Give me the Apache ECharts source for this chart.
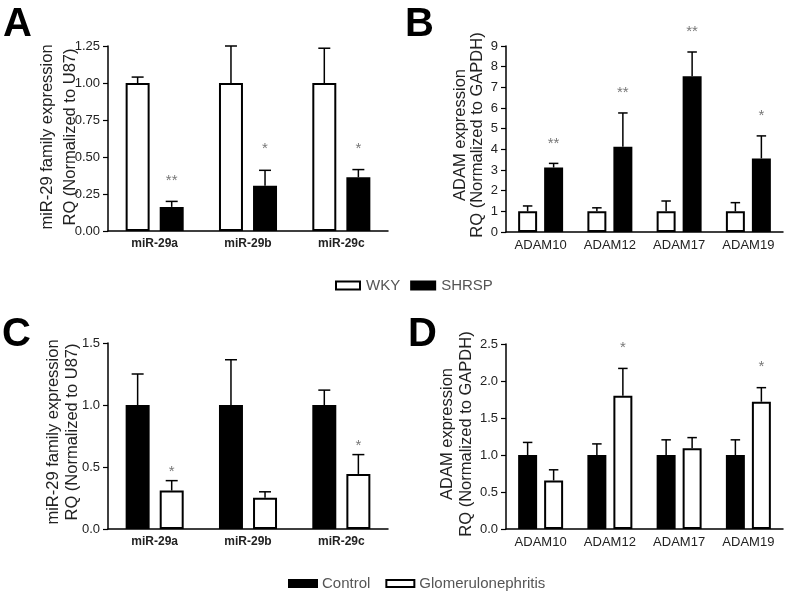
<!DOCTYPE html>
<html>
<head>
<meta charset="utf-8">
<script src="https://cdn.jsdelivr.net/npm/echarts@6/dist/echarts.min.js"></script>
<style>html,body{margin:0;padding:0;background:#fff}#c{width:788px;height:595px}</style>
</head>
<body>
<div id="c"></div>
<script>
// ---- Data ----
var catsA = ['miR-29a', 'miR-29b', 'miR-29c'];
var wkyA = [1.00, 1.00, 1.00];
var wkyASem = [0.04, 0.25, 0.235];
var shrspA = [0.163, 0.306, 0.363];
var shrspASem = [0.037, 0.104, 0.052];
var sigA = ['**', '*', '*'];

var catsB = ['ADAM10', 'ADAM12', 'ADAM17', 'ADAM19'];
var wkyB = [1.00, 1.00, 1.00, 1.00];
var wkyBSem = [0.26, 0.17, 0.50, 0.42];
var shrspB = [3.12, 4.12, 7.54, 3.56];
var shrspBSem = [0.20, 1.64, 1.17, 1.09];
var sigB = ['**', '**', '**', '*'];

var catsC = ['miR-29a', 'miR-29b', 'miR-29c'];
var ctrlC = [1.00, 1.00, 1.00];
var ctrlCSem = [0.25, 0.365, 0.12];
var glomC = [0.31, 0.253, 0.444];
var glomCSem = [0.08, 0.047, 0.156];
var sigC = ['*', '', '*'];

var catsD = ['ADAM10', 'ADAM12', 'ADAM17', 'ADAM19'];
var ctrlD = [1.00, 1.00, 1.00, 1.00];
var ctrlDSem = [0.17, 0.15, 0.205, 0.205];
var glomD = [0.656, 1.80, 1.09, 1.72];
var glomDSem = [0.144, 0.37, 0.145, 0.19];
var sigD = ['', '*', '', '*'];

var ticksA = {min: 0, max: 1.25, interval: 0.25, dec: 2};
var ticksB = {min: 0, max: 9, interval: 1, dec: 0};
var ticksC = {min: 0, max: 1.5, interval: 0.5, dec: 1};
var ticksD = {min: 0, max: 2.5, interval: 0.5, dec: 1};

var titleMir = ['miR-29 family expression', 'RQ (Normalized to U87)'];
var titleAdam = ['ADAM expression', 'RQ (Normalized to GAPDH)'];

// ---- Build ----
var FONT = '"Liberation Sans", Arial, sans-serif';
var chart = echarts.init(document.getElementById('c'), null, {renderer: 'canvas'});

var panels = [
  {grid: {left: 108, right: 400, top: 46, bottom: 364}, cats: catsA, t: ticksA, bw: 0.257, gap: 0.42, boldCat: true,
   title: titleMir, tx: [47, 70], ty: 137, starOff: 21,
   s1: {name: 'WKY', v: wkyA, e: wkyASem, fill: '#fff'}, s2: {name: 'SHRSP', v: shrspA, e: shrspASem, fill: '#000', sig: sigA}},
  {grid: {left: 506, right: 5, top: 46, bottom: 363}, cats: catsB, t: ticksB, bw: 0.274, gap: 0.37, boldCat: false,
   title: titleAdam, tx: [460, 477.5], ty: 135, starOff: 20,
   s1: {name: 'WKY', v: wkyB, e: wkyBSem, fill: '#fff'}, s2: {name: 'SHRSP', v: shrspB, e: shrspBSem, fill: '#000', sig: sigB}},
  {grid: {left: 108, right: 400, top: 343, bottom: 66}, cats: catsC, t: ticksC, bw: 0.257, gap: 0.42, boldCat: true,
   title: titleMir, tx: [53, 72], ty: 432, starOff: 9,
   s1: {name: 'Control', v: ctrlC, e: ctrlCSem, fill: '#000'}, s2: {name: 'Glomerulonephritis', v: glomC, e: glomCSem, fill: '#fff', sig: sigC}},
  {grid: {left: 506, right: 5, top: 344, bottom: 66}, cats: catsD, t: ticksD, bw: 0.274, gap: 0.37, boldCat: false,
   title: titleAdam, tx: [447, 466], ty: 434, starOff: 20.5,
   s1: {name: 'Control', v: ctrlD, e: ctrlDSem, fill: '#000'}, s2: {name: 'Glomerulonephritis', v: glomD, e: glomDSem, fill: '#fff', sig: sigD}}
];

var grids = [], xAxes = [], yAxes = [], series = [], graphics = [];

function errSeries(pi, p, s, sign) {
  var data = s.v.map(function (v, i) { return [i, v, v + s.e[i], (s.sig && s.sig[i]) || '']; });
  return {
    type: 'custom', name: 'err-' + s.name + pi, xAxisIndex: pi, yAxisIndex: pi, clip: false, z: 3,
    encode: {x: 0, y: [1, 2]},
    data: data,
    renderItem: function (params, api) {
      var idx = api.value(0);
      var top = api.coord([idx, api.value(1)]);
      var et = api.coord([idx, api.value(2)]);
      var band = api.size([1, 0])[0];
      var w = band * p.bw;
      var x = top[0] + sign * w * (1 + p.gap) / 2;
      var cap = w * 0.5;
      var lineStyle = {stroke: '#000', lineWidth: 1.5};
      var children = [
        {type: 'line', shape: {x1: x, y1: top[1], x2: x, y2: et[1]}, style: lineStyle},
        {type: 'line', shape: {x1: x - cap / 2, y1: et[1], x2: x + cap / 2, y2: et[1]}, style: lineStyle}
      ];
      var sig = api.value(3);
      if (sig) {
        children.push({type: 'text', x: x, y: et[1] - p.starOff,
          style: {text: sig, fill: '#777', font: '15px ' + FONT, align: 'center', verticalAlign: 'middle'}});
      }
      return {type: 'group', children: children};
    }
  };
}

panels.forEach(function (p, pi) {
  grids.push(p.grid);
  xAxes.push({
    type: 'category', gridIndex: pi, data: p.cats, boundaryGap: true,
    axisLine: {lineStyle: {color: '#000', width: 1.5}},
    axisTick: {alignWithLabel: true, length: 4, lineStyle: {color: '#000', width: 1.2}},
    axisLabel: {color: '#222', fontFamily: FONT, fontSize: p.boldCat ? 12 : 13, fontWeight: p.boldCat ? 'bold' : 'normal', margin: 7}
  });
  yAxes.push({
    type: 'value', gridIndex: pi, min: p.t.min, max: p.t.max, interval: p.t.interval,
    splitLine: {show: false},
    axisLine: {show: true, lineStyle: {color: '#000', width: 1.5}},
    axisTick: {show: true, length: 5, lineStyle: {color: '#000', width: 1.2}},
    axisLabel: {color: '#222', fontFamily: FONT, fontSize: 13, margin: 8,
      formatter: (function (d) { return function (v) { return v.toFixed(d); }; })(p.t.dec)}
  });
  [p.s1, p.s2].forEach(function (s) {
    series.push({
      type: 'bar', name: s.name, xAxisIndex: pi, yAxisIndex: pi, data: s.v,
      barWidth: (p.bw * 100) + '%', barGap: (p.gap * 100) + '%',
      itemStyle: {color: s.fill, borderColor: '#000', borderWidth: 2},
      emphasis: {disabled: true}, z: 2
    });
  });
  series.push(errSeries(pi, p, p.s1, -1));
  series.push(errSeries(pi, p, p.s2, 1));
  p.title.forEach(function (line, li) {
    graphics.push({type: 'text', x: p.tx[li], y: p.ty, rotation: Math.PI / 2,
      style: {text: line, fill: '#222', font: '16.5px ' + FONT, align: 'center', verticalAlign: 'middle'}});
  });
});

var letterStyle = function (t) { return {text: t, fill: '#000', font: 'bold 40px ' + FONT, verticalAlign: 'middle', align: 'left'}; };
graphics.push(
  {type: 'text', left: 3, top: 5, style: letterStyle('A')},
  {type: 'text', left: 405, top: 5, style: letterStyle('B')},
  {type: 'text', left: 2, top: 315, style: letterStyle('C')},
  {type: 'text', left: 408, top: 315, style: letterStyle('D')}
);

chart.setOption({
  backgroundColor: '#fff',
  animation: false,
  grid: grids, xAxis: xAxes, yAxis: yAxes, series: series,
  legend: [
    {data: ['WKY', 'SHRSP'], left: 335, top: 278, padding: 0, itemWidth: 24, itemHeight: 8, itemGap: 10,
     icon: 'rect', textStyle: {color: '#555', fontFamily: FONT, fontSize: 15, padding: [0, 0, 0, 1]}, selectedMode: false},
    {data: ['Control', 'Glomerulonephritis'], left: 288, top: 576, padding: 0, itemWidth: 28, itemHeight: 7, itemGap: 15,
     icon: 'rect', textStyle: {color: '#555', fontFamily: FONT, fontSize: 15}, selectedMode: false}
  ],
  graphic: graphics
});
</script>
</body>
</html>
